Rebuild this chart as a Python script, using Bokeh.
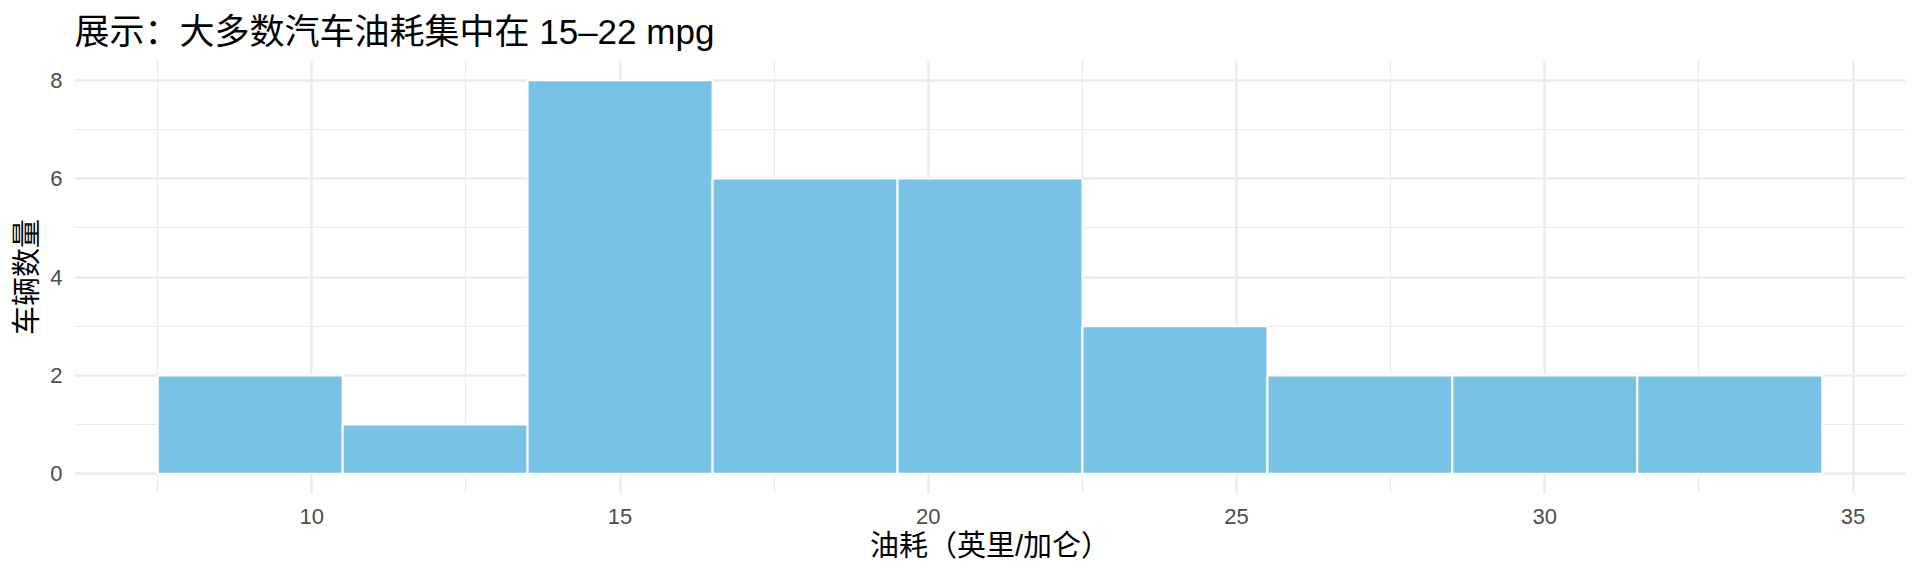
from bokeh.plotting import figure
from bokeh.models import FixedTicker, Range1d, ColumnDataSource
from bokeh.embed import file_html
from bokeh.resources import INLINE

# Data (mtcars mpg histogram, binwidth 3)
bin_left = [7.5, 10.5, 13.5, 16.5, 19.5, 22.5, 25.5, 28.5, 31.5]
bin_right = [10.5, 13.5, 16.5, 19.5, 22.5, 25.5, 28.5, 31.5, 34.5]
counts = [2, 1, 8, 6, 6, 3, 2, 2, 2]
x_ticks = [10, 15, 20, 25, 30, 35]
x_minor = [7.5, 12.5, 17.5, 22.5, 27.5, 32.5]
y_ticks = [0, 2, 4, 6, 8]
y_minor = [1, 3, 5, 7]

title_text = "展示：大多数汽车油耗集中在 15–22 mpg"
x_title = "油耗（英里/加仑）"
y_title = "车辆数量"

CJK = "Noto Sans CJK SC"
SANS = "Liberation Sans"
MIXED = "Liberation Sans, Noto Sans CJK SC"

X0, X1 = 6.15, 35.85
Y0, Y1 = -0.4, 8.4

p = figure(frame_width=1831, frame_height=433, output_backend="svg", toolbar_location=None,
           x_range=Range1d(X0, X1), y_range=Range1d(Y0, Y1),
           min_border_left=66, min_border_right=7, min_border_top=0, min_border_bottom=60,
           title=title_text)

p.title.text_font = MIXED
p.title.text_font_size = "35px"
p.title.text_font_style = "normal"
p.title.text_color = "#000000"
p.title.align = "left"
p.title.offset = 0
p.title.standoff = 19

p.outline_line_color = None
p.background_fill_color = "white"
p.border_fill_color = "white"

for ax in (p.xaxis[0], p.yaxis[0]):
    ax.axis_line_color = None
    ax.major_tick_line_color = None
    ax.minor_tick_line_color = None
    ax.major_tick_in = 0
    ax.major_tick_out = 0
    ax.minor_tick_in = 0
    ax.minor_tick_out = 0
    ax.major_label_text_font = SANS
    ax.major_label_text_font_size = "22px"
    ax.major_label_text_color = "#4D4D4D"
    ax.axis_label_text_font_size = "29px"
    ax.axis_label_text_font_style = "normal"
    ax.axis_label_text_color = "#000000"

p.xaxis[0].axis_label_text_font = MIXED
p.yaxis[0].axis_label_text_font = CJK
p.xaxis[0].ticker = FixedTicker(ticks=x_ticks, minor_ticks=x_minor)
p.yaxis[0].ticker = FixedTicker(ticks=y_ticks, minor_ticks=y_minor)
p.xaxis[0].axis_label = x_title
p.yaxis[0].axis_label = y_title
p.xaxis[0].major_label_standoff = 15
p.xaxis[0].axis_label_standoff = 3
p.yaxis[0].major_label_standoff = 12
p.yaxis[0].axis_label_standoff = 2

for g in (p.xgrid[0], p.ygrid[0]):
    g.grid_line_color = "#EBEBEB"
    g.grid_line_width = 2.4
    g.minor_grid_line_color = "#EBEBEB"
    g.minor_grid_line_width = 1.2

src = ColumnDataSource(dict(left=bin_left, right=bin_right, top=counts, bottom=[0] * len(counts)))
p.quad(left="left", right="right", top="top", bottom="bottom", source=src,
       fill_color="#78C2E6", line_color="white", line_width=2)

open("out.html", "w").write(file_html(p, INLINE))
